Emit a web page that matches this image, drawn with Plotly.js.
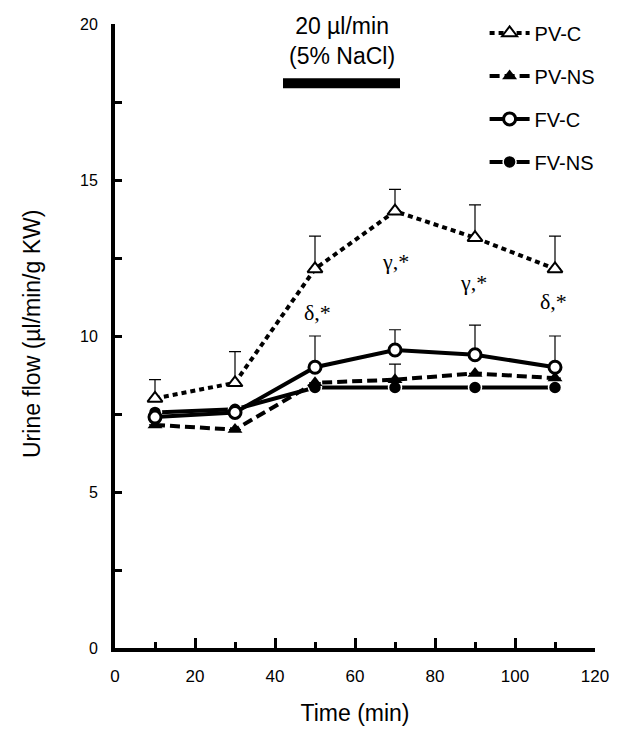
<!DOCTYPE html>
<html>
<head>
<meta charset="utf-8">
<script src="https://cdn.plot.ly/plotly-3.0.1.min.js"></script>
<style>html,body{margin:0;padding:0;background:#fff;}#chart{width:629px;height:741px;}</style>
</head>
<body>
<div id="chart"></div>
<script>
// ---- data ----
const timeMin = [10, 30, 50, 70, 90, 110];
const pvC = [8.0, 8.5, 12.15, 14.0, 13.15, 12.15];
const pvCErr = [0.6, 1.0, 1.05, 0.7, 1.05, 1.05];
const pvNS = [7.15, 7.0, 8.5, 8.6, 8.8, 8.65];
const pvNSErr = [0, 0, 0, 0.5, 0, 0];
const fvC = [7.4, 7.55, 9.0, 9.55, 9.4, 9.0];
const fvCErr = [0, 0, 1.0, 0.65, 0.95, 1.0];
const fvNS = [7.55, 7.65, 8.35, 8.35, 8.35, 8.35];
const seriesNames = ["PV-C", "PV-NS", "FV-C", "FV-NS"];
const sigLabels = ["δ,*", "γ,*", "γ,*", "δ,*"];
const sigX = [50.5, 70, 89.5, 109.5];
const sigY = [10.75, 12.4, 11.7, 11.1];
const infusionStart = 42;
const infusionEnd = 71.25;
const infusionLevel = 18.1;
const infusionText = ["20 µl/min", "(5% NaCl)"];
const xTitle = "Time (min)";
const yTitle = "Urine flow (µl/min/g KW)";

const FONT = "Liberation Sans, Arial, Helvetica, sans-serif";
const SERIF = "Liberation Serif, Times New Roman, serif";
const zeros = timeMin.map(() => 0);

function errBar(arr) {
  return {type: 'data', symmetric: false, array: arr, arrayminus: zeros,
          color: '#000', thickness: 1.2, width: 6, visible: true};
}

const traces = [
  {x: timeMin, y: fvNS, name: seriesNames[3], mode: 'lines+markers', legendrank: 4, legendgroup: 'd',
   line: {color: '#000', width: 4}, marker: {symbol: 'circle', size: 13, color: '#000', line: {color: '#fff', width: 1.5}}},
  {x: timeMin, y: pvNS, name: seriesNames[1], mode: 'lines+markers', legendrank: 2, legendgroup: 'b',
   error_y: errBar(pvNSErr),
   line: {color: '#000', width: 4, dash: '10px,5px'}, marker: {symbol: 'triangle-up', size: 13, color: '#000'}},
  {x: timeMin, y: fvC, name: seriesNames[2], mode: 'lines+markers', legendrank: 3, legendgroup: 'c',
   error_y: errBar(fvCErr),
   line: {color: '#000', width: 4}, marker: {symbol: 'circle', size: 12, color: '#fff', line: {color: '#000', width: 3}}},
  {x: timeMin, y: pvC, name: seriesNames[0], mode: 'lines+markers', legendrank: 1, legendgroup: 'a',
   error_y: errBar(pvCErr),
   line: {color: '#000', width: 4, dash: '5px,4px'}, marker: {symbol: 'triangle-up', size: 13, color: '#fff', line: {color: '#000', width: 2}}}
];

const annotations = sigLabels.map((t, i) => ({
  x: sigX[i], y: sigY[i], xref: 'x', yref: 'y', text: t, showarrow: false,
  font: {family: SERIF, size: 22, color: '#000'}
}));
annotations.push({x: (infusionStart + infusionEnd) / 2, y: 19.45, xref: 'x', yref: 'y',
  text: infusionText.join('<br>'),
  showarrow: false, xanchor: 'center', yanchor: 'middle', font: {family: FONT, size: 23, color: '#000'}});
annotations.push({x: (32 - 115) / 480, y: (648 - 334) / 624, xref: 'paper', yref: 'paper', text: yTitle,
  showarrow: false, xanchor: 'center', yanchor: 'middle',
  textangle: -90, font: {family: FONT, size: 23, color: '#000'}});

const layout = {
  width: 629, height: 741,
  margin: {l: 115, r: 34, t: 24, b: 93, autoexpand: false},
  paper_bgcolor: '#fff', plot_bgcolor: '#fff',
  font: {family: FONT, color: '#000'},
  showlegend: true,
  legend: {x: 0.77, y: 1.017, xanchor: 'left', yanchor: 'top', traceorder: 'grouped', tracegroupgap: 14,
           itemwidth: 40,
           font: {family: FONT, size: 20, color: '#000'}, bgcolor: 'rgba(0,0,0,0)'},
  xaxis: {range: [0, 120], showgrid: false, zeroline: false, showline: true, linecolor: '#000', linewidth: 4,
          ticks: 'inside', tick0: 0, dtick: 20, ticklen: 10, tickwidth: 3, tickcolor: '#000',
          minor: {dtick: 10, ticks: 'inside', ticklen: 6, tickwidth: 3, tickcolor: '#000', showgrid: false},
          ticklabelstandoff: 10, automargin: false,
          tickfont: {family: FONT, size: 17, color: '#000'},
          title: {text: xTitle, font: {family: FONT, size: 23, color: '#000'}, standoff: 20}},
  yaxis: {range: [0, 20], showgrid: false, zeroline: false, showline: true, linecolor: '#000', linewidth: 4,
          ticks: 'inside', tick0: 0, dtick: 5, ticklen: 7, tickwidth: 3, tickcolor: '#000',
          minor: {dtick: 2.5, ticks: 'inside', ticklen: 7, tickwidth: 3, tickcolor: '#000', showgrid: false},
          ticklabelstandoff: 10, automargin: false,
          tickfont: {family: FONT, size: 16, color: '#000'}},
  shapes: [{type: 'line', xref: 'x', yref: 'y', x0: infusionStart, x1: infusionEnd, y0: infusionLevel, y1: infusionLevel,
            line: {color: '#000', width: 10}}],
  annotations: annotations
};

Plotly.newPlot('chart', traces, layout, {displayModeBar: false, staticPlot: true});
</script>
</body>
</html>
